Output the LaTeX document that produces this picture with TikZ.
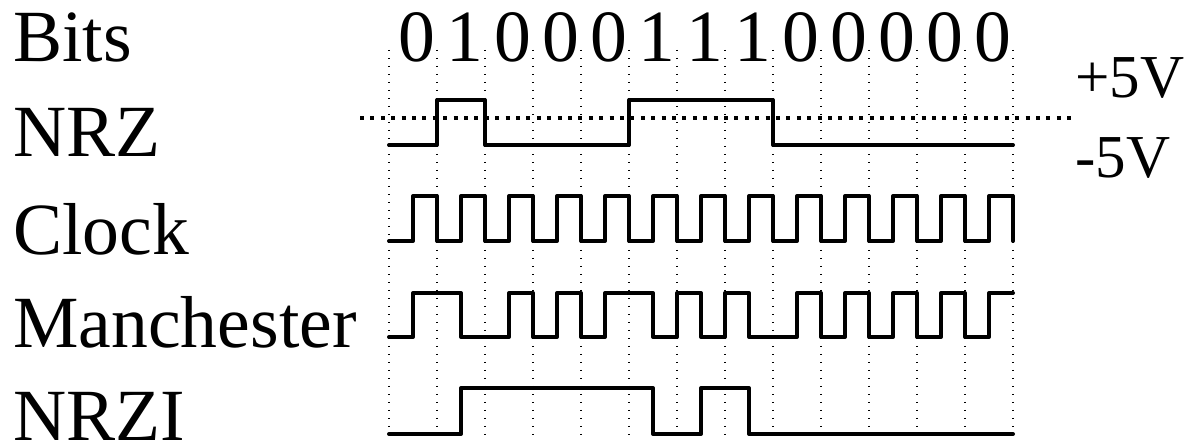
\documentclass[tikz,border=0pt]{standalone}
\usepackage{fontspec}
\setmainfont{Liberation Serif}
\usetikzlibrary{positioning}

\begin{document}
\begin{tikzpicture}[x=0.5pt,y=-0.5pt,
  lbl/.style={inner sep=0pt,font=\fontsize{36.8}{40}\selectfont},
  volt/.style={inner sep=0pt,font=\fontsize{30.5}{34}\selectfont},
  sig/.style={line width=2pt,line join=round,line cap=round},
  grid/.style={line width=0.6pt,dash pattern=on 0.6pt off 3.4pt},
  ref/.style={line width=2pt,dash pattern=on 2pt off 3.2pt}]
\useasboundingbox (0,0) rectangle (1189,448);
% labels
\node[lbl,anchor=base west] (lblBits) at (13,62) {Bits};
\node[lbl,anchor=base west] (lblNrz) at (13,157) {NRZ};
\node[lbl,anchor=base west] (lblClock) at (13,255) {Clock};
\node[lbl,anchor=base west] (lblManch) at (13,348) {Manchester};
\node[lbl,anchor=base west] (lblNrzi) at (13,441) {NRZI};
\node[volt,anchor=base west] (lblHigh) at (1075,98) {+5V};
\node[volt,anchor=base west] (lblLow) at (1075,178) {-5V};
\foreach \b [count=\i from 0] in {0,1,0,0,0,1,1,1,0,0,0,0,0}
  \node[lbl,anchor=base] (bit\i) at ({417+48*\i},62) {\b};
% bit cells
\foreach \x in {389,437,...,1013}
  \draw[grid] (\x,50)--(\x,435);
\draw[ref] (360,118)--(1072,118);
% NRZ
\draw[sig] plot coordinates {(389,145)(437,145)(437,100)(485,100)(485,145)(629,145)(629,100)(773,100)(773,145)(1013,145)};
% clock
\draw[sig] (389,241) \foreach \i in {0,...,12} {-- ++(24,0) -- ++(0,-45) -- ++(24,0) -- ++(0,45)};
% Manchester
\draw[sig] plot coordinates {(389,337)(413,337)(413,293)(461,293)(461,337)(509,337)(509,293)(533,293)(533,337)(557,337)(557,293)(581,293)(581,337)(605,337)(605,293)(653,293)(653,337)(677,337)(677,293)(701,293)(701,337)(725,337)(725,293)(749,293)(749,337)(797,337)(797,293)(821,293)(821,337)(845,337)(845,293)(869,293)(869,337)(893,337)(893,293)(917,293)(917,337)(941,337)(941,293)(965,293)(965,337)(989,337)(989,293)(1013,293)};
% NRZI
\draw[sig] plot coordinates {(389,434)(461,434)(461,388)(653,388)(653,434)(701,434)(701,388)(749,388)(749,434)(1013,434)};
\end{tikzpicture}
\end{document}
